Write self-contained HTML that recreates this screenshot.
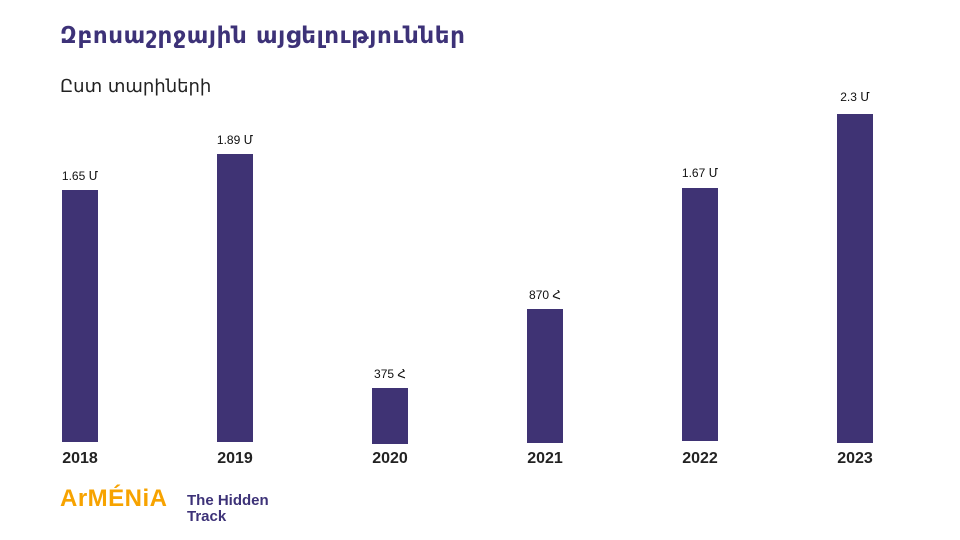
<!DOCTYPE html>
<html><head><meta charset="utf-8"><style>
body{margin:0;width:960px;height:540px;background:#fff;position:relative;overflow:hidden;font-family:"DejaVu Sans","Liberation Sans",sans-serif}
.t{position:absolute;left:60px;top:23px;font-size:23px;font-weight:bold;color:#3d3278;letter-spacing:0.6px}
.s{position:absolute;left:60px;top:76px;font-size:18px;color:#222}
.b{position:absolute;width:36px;background:#3f3374}
.v{position:absolute;width:80px;text-align:center;font-size:12px;color:#111;font-family:"Liberation Sans","DejaVu Sans",sans-serif}
.y{position:absolute;width:80px;text-align:center;font-size:16px;font-weight:bold;color:#222;top:450px;font-family:"Liberation Sans",sans-serif}
</style></head><body>
<div class="t">Զբոսաշրջային այցելություններ</div>
<div class="s">Ըստ տարիների</div>
<div class="b" style="left:62px;top:190px;height:252px"></div>
<div class="b" style="left:217px;top:154px;height:288px"></div>
<div class="b" style="left:372px;top:388px;height:56px"></div>
<div class="b" style="left:527px;top:309px;height:134px"></div>
<div class="b" style="left:682px;top:188px;height:253px"></div>
<div class="b" style="left:837px;top:114px;height:329px"></div>
<div class="v" style="left:40px;top:169px">1.65 Մ</div>
<div class="v" style="left:195px;top:133px">1.89 Մ</div>
<div class="v" style="left:350px;top:367px">375 Հ</div>
<div class="v" style="left:505px;top:288px">870 Հ</div>
<div class="v" style="left:660px;top:166px">1.67 Մ</div>
<div class="v" style="left:815px;top:90px">2.3 Մ</div>
<div class="y" style="left:40px">2018</div>
<div class="y" style="left:195px">2019</div>
<div class="y" style="left:350px">2020</div>
<div class="y" style="left:505px">2021</div>
<div class="y" style="left:660px">2022</div>
<div class="y" style="left:815px">2023</div>
<div style="position:absolute;left:60px;top:485px;font-size:24px;font-weight:bold;color:#f7a300;font-family:'Liberation Sans',sans-serif;letter-spacing:0.5px">ArMÉNiA</div>
<div style="position:absolute;left:187px;top:493px;font-size:15px;font-weight:bold;color:#3d3278;line-height:16px;font-family:'Liberation Sans',sans-serif">The Hidden<br>Track</div>
</body></html>
